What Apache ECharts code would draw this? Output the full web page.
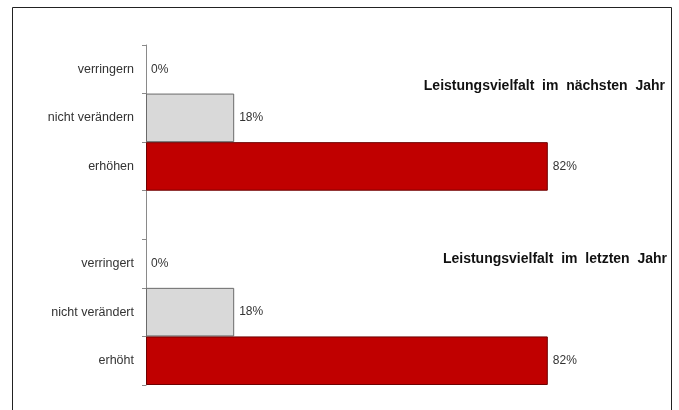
<!DOCTYPE html>
<html>
<head>
<meta charset="utf-8">
<script src="https://cdn.jsdelivr.net/npm/echarts@6/dist/echarts.min.js"></script>
<style>
  html, body { margin: 0; padding: 0; background: #fff; }
  #chart { width: 679px; height: 410px; }
</style>
</head>
<body>
<div id="chart"></div>
<script>
// Leistungsvielfalt: Veränderung im nächsten und im letzten Jahr
const categories = ['verringern', 'nicht verändern', 'erhöhen', '', 'verringert', 'nicht verändert', 'erhöht'];
const shares = [0, 18, 82, null, 0, 18, 82];
const titles = ['Leistungsvielfalt  im  nächsten  Jahr', 'Leistungsvielfalt  im  letzten  Jahr'];

const FONT = '"Liberation Sans", Arial, sans-serif';
const GRAY = '#d9d9d9';
const RED = '#c00000';

const barData = shares.map(v => {
  if (v === null) return null;
  const big = v >= 50;
  return {
    value: v,
    itemStyle: {
      color: big ? RED : GRAY,
      borderColor: big ? '#6e0000' : '#6a6a6a',
      borderWidth: v === 0 ? 0 : 1
    }
  };
});

const chart = echarts.init(document.getElementById('chart'), null, { renderer: 'canvas' });
chart.setOption({
  animation: false,
  backgroundColor: '#fff',
  textStyle: { fontFamily: FONT },
  title: [
    { text: titles[0], right: 9, top: 74,
      textStyle: { fontSize: 14, fontWeight: 'bold', color: '#111', fontFamily: FONT } },
    { text: titles[1], right: 7, top: 247,
      textStyle: { fontSize: 14, fontWeight: 'bold', color: '#111', fontFamily: FONT } }
  ],
  graphic: [{
    type: 'rect',
    shape: { x: 12.5, y: 7.5, width: 659, height: 420 },
    style: { fill: null, stroke: '#222', lineWidth: 1 },
    silent: true
  }],
  grid: { left: 146, top: 45, right: 43, bottom: 25, containLabel: false },
  xAxis: {
    type: 'value', min: 0, max: 100,
    show: false
  },
  yAxis: {
    type: 'category',
    data: categories,
    inverse: true,
    axisLine: { show: true, lineStyle: { color: '#8a8a8a', width: 1 } },
    axisTick: { show: true, length: 4, lineStyle: { color: '#8a8a8a' } },
    axisLabel: { fontSize: 12.5, color: '#333', margin: 12, fontFamily: FONT },
    splitLine: { show: false }
  },
  series: [{
    type: 'bar',
    data: barData,
    barWidth: '100%',
    barCategoryGap: 0,
    label: {
      show: true,
      position: 'right',
      distance: 5,
      fontSize: 12,
      color: '#333',
      fontFamily: FONT,
      formatter: p => p.value + '%'
    }
  }]
});
</script>
</body>
</html>
